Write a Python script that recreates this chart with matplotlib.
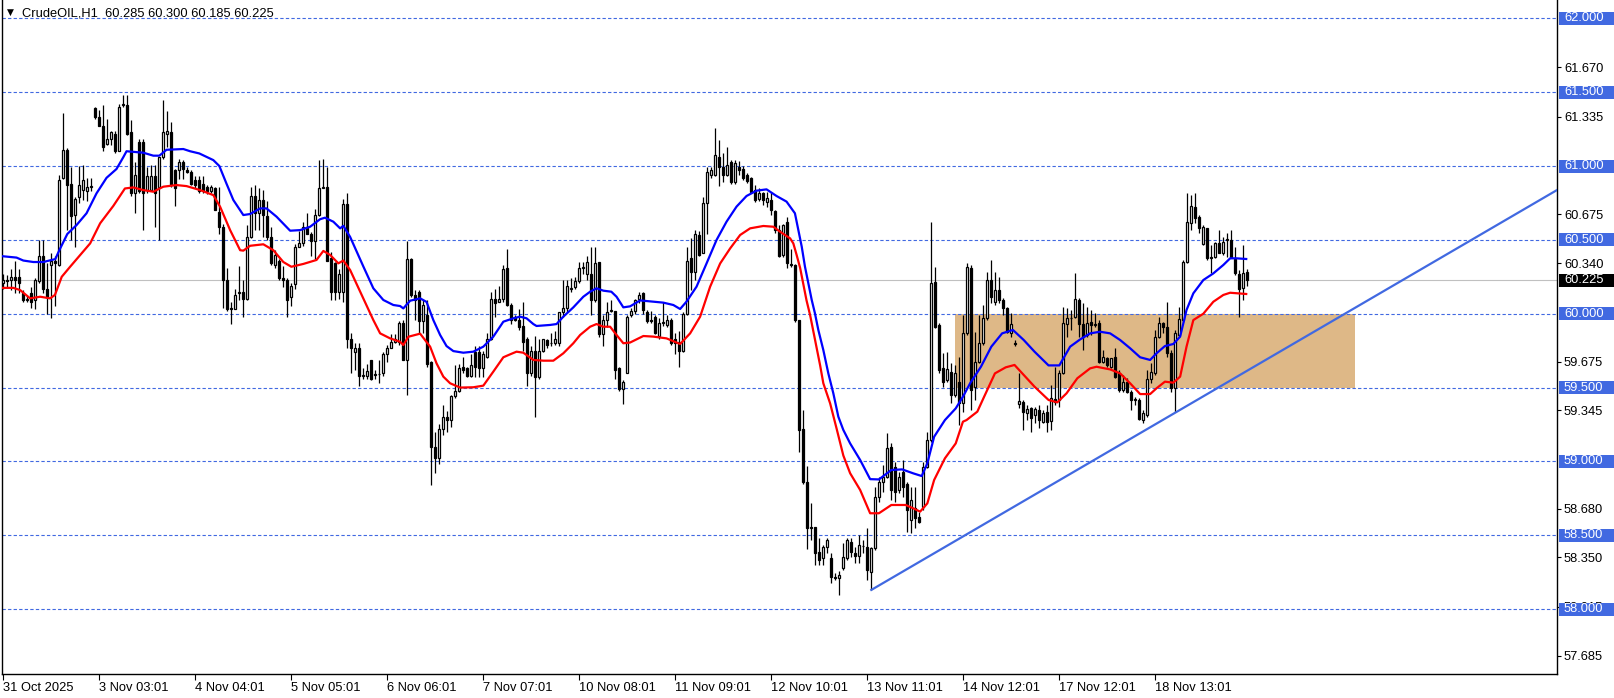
import matplotlib
matplotlib.use("Agg")
import matplotlib.pyplot as plt
from matplotlib.patches import Rectangle
import numpy as np

plt.rcParams['font.family'] = ['Liberation Sans', 'DejaVu Sans']

# ---------------- data (H1 candles, bar index 0..311) ----------------
opens = [60.21, 60.23, 60.23, 60.25, 60.25, 60.14, 60.10, 60.14, 60.09, 60.22,
         60.39, 60.17, 60.33, 60.36, 60.33, 60.92, 61.11, 60.88, 60.67, 60.79,
         60.84, 60.83, 60.86, 61.39, 61.33, 61.27, 61.15, 61.18, 61.22, 61.10,
         61.41, 61.41, 61.23, 60.815, 61.16, 61.16, 60.84, 60.84, 60.93, 60.86,
         61.06, 61.22, 61.23, 60.97, 60.97, 61.03, 60.97, 60.96, 60.905, 60.905,
         60.88, 60.86, 60.83, 60.85, 60.69, 60.59, 60.23, 60.04, 60.03, 60.14,
         60.15, 60.10, 60.52, 60.80, 60.68, 60.77, 60.66, 60.52, 60.33, 60.36,
         60.245, 60.23, 60.11, 60.20, 60.45, 60.48, 60.59, 60.54, 60.49, 60.67,
         60.85, 60.86, 60.38, 60.34, 60.15, 60.15, 60.74, 59.83, 59.74, 59.77,
         59.58, 59.58, 59.69, 59.59, 59.59, 59.60, 59.73, 59.77, 59.81, 59.81,
         59.94, 59.69, 60.37, 60.13, 60.15, 59.95, 59.99, 59.67, 59.10, 59.02,
         59.22, 59.30, 59.28, 59.44, 59.48, 59.64, 59.63, 59.58, 59.74, 59.74,
         59.63, 59.71, 59.83, 60.10, 60.08, 60.10, 60.31, 60.06, 59.98, 59.96,
         59.92, 59.83, 59.60, 59.75, 59.57, 59.75, 59.82, 59.80, 59.80, 59.80,
         60.01, 60.04, 60.17, 60.18, 60.22, 60.31, 60.27, 60.27, 60.09, 60.35,
         59.86, 59.96, 60.02, 60.02, 59.63, 59.49, 59.60, 59.99, 60.02, 60.10,
         60.138, 60.01, 59.96, 59.98, 59.85, 59.94, 59.925, 59.96, 59.83, 59.81,
         59.75, 59.995, 60.375, 60.285, 60.53, 60.41, 60.75, 60.94, 60.94, 61.06,
         60.995, 60.94, 61.03, 60.89, 60.995, 60.98, 60.94, 60.92, 60.84, 60.774,
         60.815, 60.759, 60.77, 60.698, 60.567, 60.40, 60.623, 60.336, 60.33, 59.957,
         59.217, 58.863, 58.558, 58.558, 58.389, 58.344, 58.423, 58.344, 58.22, 58.21,
         58.276, 58.344, 58.457, 58.383, 58.36, 58.43, 58.423, 58.254, 58.411, 58.761,
         58.863, 58.897, 59.10, 58.964, 58.806, 58.93, 58.85, 58.603, 58.682, 58.626,
         58.694, 58.964, 59.145, 60.217, 59.923, 59.63, 59.551, 59.607, 59.45, 59.54,
         59.393, 59.867, 60.307, 59.506, 59.675, 59.799, 59.969, 60.228, 60.082, 60.16,
         60.093, 60.036, 59.867, 59.799, 59.389, 59.405, 59.326, 59.36, 59.314, 59.348,
         59.269, 59.337, 59.276, 59.423, 59.416, 59.596, 59.93, 59.969, 59.975, 60.093,
         59.93, 59.856, 59.946, 59.924, 59.94, 59.675, 59.698, 59.637, 59.705, 59.596,
         59.483, 59.54, 59.472, 59.416, 59.416, 59.28, 59.314, 59.556, 59.596, 59.845,
         59.935, 59.912, 59.732, 59.495, 59.856, 59.958, 60.352, 60.612, 60.725, 60.657,
         60.472, 60.578, 60.382, 60.382, 60.481, 60.409, 60.499, 60.499, 60.368, 60.269,
         60.172, 60.285]
highs = [60.27, 60.26, 60.30, 60.36, 60.30, 60.16, 60.12, 60.18, 60.24, 60.50,
         60.50, 60.34, 60.41, 60.39, 60.94, 61.36, 61.12, 60.99, 60.79, 61.00,
         61.01, 60.92, 60.92, 61.40, 61.38, 61.41, 61.32, 61.24, 61.24, 61.42,
         61.48, 61.48, 61.31, 61.03, 61.18, 61.18, 60.99, 61.01, 61.01, 61.06,
         61.45, 61.37, 61.30, 60.98, 61.05, 61.04, 60.995, 60.97, 60.93, 60.93,
         60.93, 60.87, 60.87, 60.86, 60.86, 60.61, 60.31, 60.08, 60.17, 60.32,
         60.23, 60.60, 60.86, 60.87, 60.85, 60.84, 60.76, 60.59, 60.43, 60.37,
         60.32, 60.24, 60.21, 60.47, 60.56, 60.62, 60.68, 60.55, 60.71, 61.04,
         61.05, 60.995, 60.42, 60.35, 60.30, 60.78, 60.82, 59.87, 59.80, 59.80,
         59.63, 59.66, 59.69, 59.62, 59.69, 59.74, 59.79, 59.86, 59.86, 59.95,
         59.96, 60.49, 60.38, 60.16, 60.16, 60.09, 60.09, 59.68, 59.20, 59.25,
         59.38, 59.34, 59.45, 59.65, 59.66, 59.71, 59.64, 59.73, 59.78, 59.78,
         59.75, 59.87, 60.15, 60.17, 60.19, 60.33, 60.44, 60.07, 59.99, 60.03,
         60.08, 59.84, 59.78, 59.85, 59.83, 59.83, 59.83, 59.87, 59.88, 60.01,
         60.23, 60.23, 60.24, 60.25, 60.35, 60.35, 60.39, 60.45, 60.45, 60.35,
         59.99, 60.08, 60.09, 60.02, 59.64, 59.55, 59.99, 60.04, 60.10, 60.15,
         60.15, 60.025, 60.02, 59.99, 59.97, 60.08, 59.99, 59.97, 59.87, 59.88,
         60.01, 60.45, 60.51, 60.57, 60.56, 60.79, 60.995, 60.995, 61.255, 61.175,
         61.09, 61.126, 61.04, 61.04, 61.036, 61.00, 60.95, 60.928, 60.87, 60.85,
         60.826, 60.826, 60.826, 60.70, 60.60, 60.61, 60.657, 60.436, 60.336, 59.96,
         59.35, 58.97, 58.716, 58.558, 58.479, 58.434, 58.479, 58.378, 58.242, 58.26,
         58.445, 58.479, 58.479, 58.42, 58.50, 58.468, 58.547, 58.423, 58.83, 58.897,
         58.976, 59.19, 59.122, 58.998, 58.93, 59.01, 58.86, 58.829, 58.829, 58.66,
         58.998, 59.20, 60.623, 60.319, 59.935, 59.732, 59.743, 59.664, 59.653, 59.709,
         59.991, 60.341, 60.33, 59.879, 59.991, 60.059, 60.285, 60.364, 60.285, 60.251,
         60.104, 60.048, 60.003, 59.822, 59.596, 59.416, 59.382, 59.371, 59.371, 59.382,
         59.348, 59.382, 59.517, 59.641, 59.619, 60.048, 60.036, 60.025, 60.273, 60.104,
         60.07, 60.048, 60.025, 60.003, 59.957, 59.754, 59.709, 59.698, 59.766, 59.619,
         59.585, 59.562, 59.483, 59.438, 59.427, 59.348, 59.619, 59.664, 59.89, 59.98,
         59.946, 60.082, 59.754, 59.89, 60.048, 60.363, 60.815, 60.804, 60.815, 60.668,
         60.601, 60.578, 60.465, 60.488, 60.567, 60.522, 60.544, 60.567, 60.454, 60.296,
         60.465, 60.300]
lows = [60.17, 60.18, 60.16, 60.14, 60.14, 60.08, 60.08, 60.04, 60.03, 60.21,
        60.14, 60.00, 59.97, 60.05, 60.32, 60.91, 60.57, 60.50, 60.45, 60.75,
        60.77, 60.76, 60.83, 61.32, 61.27, 61.10, 61.14, 61.14, 61.09, 61.10,
        61.40, 61.21, 60.80, 60.68, 60.82, 60.57, 60.82, 60.83, 60.59, 60.50,
        61.05, 61.13, 60.86, 60.73, 60.91, 60.91, 60.95, 60.87, 60.85, 60.82,
        60.82, 60.81, 60.82, 60.70, 60.54, 60.04, 60.02, 59.93, 60.03, 60.09,
        59.98, 60.09, 60.51, 60.57, 60.57, 60.52, 60.50, 60.33, 60.31, 60.23,
        60.18, 59.98, 60.05, 60.17, 60.45, 60.46, 60.54, 60.39, 60.37, 60.66,
        60.85, 60.36, 60.09, 60.09, 60.10, 60.08, 59.77, 59.60, 59.62, 59.51,
        59.56, 59.56, 59.55, 59.56, 59.53, 59.58, 59.67, 59.77, 59.80, 59.79,
        59.69, 59.45, 60.11, 59.96, 59.87, 59.87, 59.64, 58.84, 58.92, 58.98,
        59.18, 59.20, 59.23, 59.43, 59.47, 59.60, 59.57, 59.57, 59.57, 59.57,
        59.57, 59.70, 59.82, 59.98, 60.08, 60.08, 60.05, 59.93, 59.95, 59.89,
        59.75, 59.51, 59.58, 59.30, 59.56, 59.74, 59.77, 59.78, 59.79, 59.78,
        59.98, 60.01, 60.15, 60.17, 60.21, 60.27, 60.23, 59.99, 60.08, 59.84,
        59.78, 59.91, 60.01, 59.56, 59.48, 59.39, 59.60, 59.98, 60.00, 60.07,
        60.00, 59.935, 59.935, 59.86, 59.83, 59.92, 59.91, 59.79, 59.73, 59.64,
        59.74, 59.99, 60.16, 60.23, 60.39, 60.41, 60.54, 60.92, 60.93, 60.865,
        60.89, 60.93, 60.88, 60.88, 60.94, 60.905, 60.883, 60.815, 60.758, 60.765,
        60.736, 60.725, 60.668, 60.544, 60.386, 60.386, 60.307, 60.314, 59.946, 59.066,
        58.85, 58.41, 58.468, 58.298, 58.298, 58.298, 58.378, 58.175, 58.197, 58.095,
        58.265, 58.33, 58.355, 58.31, 58.31, 58.38, 58.20, 58.129, 58.40, 58.727,
        58.795, 58.886, 58.739, 58.728, 58.784, 58.76, 58.52, 58.513, 58.547, 58.58,
        58.671, 58.953, 59.13, 59.90, 59.596, 59.506, 59.54, 59.393, 59.438, 59.247,
        59.337, 59.856, 59.348, 59.416, 59.664, 59.788, 59.958, 60.07, 60.059, 60.07,
        59.991, 59.867, 59.845, 59.781, 59.36, 59.213, 59.28, 59.202, 59.258, 59.224,
        59.258, 59.202, 59.213, 59.382, 59.371, 59.592, 59.845, 59.89, 59.969, 59.845,
        59.754, 59.845, 59.856, 59.912, 59.664, 59.664, 59.641, 59.63, 59.562, 59.472,
        59.472, 59.461, 59.348, 59.382, 59.28, 59.258, 59.303, 59.529, 59.585, 59.833,
        59.867, 59.709, 59.472, 59.337, 59.845, 59.946, 60.341, 60.567, 60.612, 60.544,
        60.465, 60.364, 60.273, 60.375, 60.409, 60.397, 60.386, 60.375, 60.262, 59.98,
        60.093, 60.185]
closes = [60.23, 60.22, 60.25, 60.23, 60.21, 60.09, 60.09, 60.08, 60.23, 60.39,
          60.17, 60.11, 60.36, 60.34, 60.905, 61.11, 60.87, 60.66, 60.78, 60.87,
          60.905, 60.86, 60.86, 61.33, 61.27, 61.13, 61.18, 61.23, 61.10, 61.40,
          61.42, 61.22, 60.815, 60.94, 60.83, 60.815, 60.93, 60.93, 60.815, 61.06,
          61.23, 61.24, 60.87, 60.85, 61.03, 60.98, 60.96, 60.88, 60.87, 60.83,
          60.84, 60.83, 60.86, 60.70, 60.59, 60.23, 60.03, 60.03, 60.13, 60.145,
          60.10, 60.52, 60.80, 60.68, 60.77, 60.67, 60.52, 60.34, 60.40, 60.24,
          60.23, 60.09, 60.19, 60.45, 60.48, 60.59, 60.54, 60.49, 60.67, 60.85,
          60.86, 60.36, 60.15, 60.15, 60.27, 60.74, 59.83, 59.77, 59.77, 59.58,
          59.585, 59.61, 59.56, 59.585, 59.595, 59.73, 59.77, 59.81, 59.83, 59.94,
          59.69, 60.37, 60.13, 60.09, 59.95, 60.06, 59.66, 59.10, 59.02, 59.22,
          59.30, 59.28, 59.44, 59.48, 59.63, 59.62, 59.58, 59.65, 59.64, 59.63,
          59.73, 59.83, 60.10, 60.075, 60.10, 60.30, 60.06, 59.96, 59.96, 59.91,
          59.81, 59.60, 59.75, 59.57, 59.75, 59.83, 59.79, 59.80, 59.83, 60.01,
          60.04, 60.19, 60.17, 60.22, 60.31, 60.31, 60.35, 60.09, 60.34, 59.86,
          59.96, 60.01, 60.025, 59.62, 59.49, 59.54, 59.98, 60.02, 60.09, 60.13,
          60.025, 59.95, 59.95, 59.87, 59.94, 59.94, 59.96, 59.80, 59.80, 59.75,
          59.995, 60.36, 60.285, 60.54, 60.40, 60.75, 60.96, 60.97, 61.075, 60.995,
          60.94, 61.007, 60.89, 61.02, 60.97, 60.92, 60.90, 60.826, 60.77, 60.815,
          60.77, 60.781, 60.702, 60.567, 60.39, 60.60, 60.345, 60.33, 59.957, 59.213,
          58.863, 58.547, 58.547, 58.378, 58.333, 58.423, 58.468, 58.219, 58.21, 58.23,
          58.355, 58.468, 58.39, 58.36, 58.434, 58.426, 58.265, 58.411, 58.761, 58.863,
          58.897, 59.089, 58.806, 58.795, 58.897, 58.83, 58.67, 58.739, 58.614, 58.592,
          58.964, 59.145, 60.206, 59.912, 59.619, 59.54, 59.623, 59.45, 59.60, 59.393,
          59.867, 60.318, 59.484, 59.675, 59.799, 59.969, 60.228, 60.115, 60.16, 60.093,
          60.036, 59.878, 59.93, 59.793, 59.41, 59.337, 59.353, 59.292, 59.353, 59.28,
          59.33, 59.269, 59.427, 59.405, 59.596, 59.935, 59.969, 59.969, 60.097, 59.93,
          59.845, 59.935, 59.924, 59.924, 59.675, 59.705, 59.653, 59.698, 59.574, 59.483,
          59.54, 59.472, 59.416, 59.416, 59.285, 59.326, 59.556, 59.607, 59.845, 59.935,
          59.908, 59.732, 59.495, 59.867, 59.962, 60.352, 60.623, 60.729, 60.646, 60.578,
          60.585, 60.375, 60.375, 60.476, 60.413, 60.488, 60.499, 60.382, 60.273, 60.165,
          60.279, 60.225]

# moving averages (bar index, price)
blue_ma_x = [-0.5, 3.3, 5, 7.5, 10, 13, 14, 16, 18.3, 20.8, 23.3, 25.8, 28.3, 30, 30.8,
             35, 37.5, 39, 40.8, 45, 46.7, 49, 52.5, 54, 55.8, 57.5, 60, 61.7, 64.2,
             65.8, 68.3, 71.7, 74.2, 76.7, 79.2, 80.4, 82.5, 84.2, 85, 86.7, 90, 92.5,
             95, 97.5, 99.2, 100, 101.7, 104.2, 105.8, 107.5, 109.2, 110.8, 112.5, 115,
             117.5, 120, 122.5, 125, 127.5, 129.2, 130.8, 132.5, 133.3, 136.7, 138.3,
             140, 142.5, 145, 146.7, 148.3, 150, 152, 153.3, 155, 156.7, 159.2, 160,
             165, 167.5, 169.2, 170.8, 173.3, 175.8, 178.3, 180.8, 183.3, 185.8, 188.3,
             190.8, 193.3, 195.8, 197.9, 198.75, 199.6, 200.4, 201.25, 202.1, 202.9,
             203.75, 205, 206.25, 207.5, 208.75, 210, 211.7, 214.2, 216.7, 218.9, 222,
             224.7, 227.5, 229.6, 231, 232.7, 235.4, 238.1, 239.9, 241.7, 244.4, 247,
             249.7, 252.4, 255.1, 257.8, 261.3, 264, 266.7, 269.2, 271.7, 274.2, 276.7,
             279.2, 281.7, 284.2, 286.7, 288.3, 290.4, 292.5, 294.2, 295.8, 297.5, 300,
             302.5, 305, 306.7, 308.3, 311]
blue_ma_y = [60.39, 60.38, 60.36, 60.35, 60.35, 60.37, 60.43, 60.54, 60.60, 60.68, 60.815,
             60.92, 60.98, 61.06, 61.10, 61.09, 61.07, 61.07, 61.11, 61.115, 61.10,
             61.085, 61.04, 61.00, 60.88, 60.77, 60.668, 60.675, 60.713, 60.713, 60.657,
             60.562, 60.566, 60.589, 60.64, 60.65, 60.623, 60.578, 60.595, 60.52, 60.32,
             60.172, 60.093, 60.059, 60.052, 60.036, 60.088, 60.104, 60.08, 59.957,
             59.856, 59.781, 59.747, 59.736, 59.743, 59.777, 59.845, 59.946, 59.969,
             59.98, 59.969, 59.93, 59.917, 59.924, 59.93, 59.98, 60.043, 60.115, 60.149,
             60.172, 60.156, 60.149, 60.115, 60.043, 60.05, 60.09, 60.088, 60.075,
             60.059, 60.032, 60.082, 60.183, 60.34, 60.499, 60.623, 60.725, 60.797,
             60.833, 60.842, 60.797, 60.759, 60.68, 60.567, 60.454, 60.32, 60.206,
             60.093, 60.003, 59.89, 59.754, 59.596, 59.461, 59.303, 59.213, 59.122,
             59.01, 58.88, 58.878, 58.942, 58.946, 58.919, 58.901, 58.987, 59.167,
             59.28, 59.359, 59.438, 59.529, 59.641, 59.777, 59.867, 59.89, 59.822,
             59.743, 59.65, 59.65, 59.777, 59.826, 59.867, 59.878, 59.867, 59.822,
             59.766, 59.705, 59.687, 59.732, 59.781, 59.795, 59.845, 60.025, 60.138,
             60.228, 60.273, 60.33, 60.375, 60.375, 60.37]
red_ma_x = [-0.5, 2.5, 4.2, 6.7, 9.2, 11.7, 12.9, 14.6, 16.7, 19.2, 21.7, 24.2, 27.5, 30.4,
            32.5, 35, 37.5, 40, 43.3, 45.8, 49.2, 52.5, 54.2, 56.7, 59.2, 60, 61.7, 65,
            67.5, 70, 72, 75, 78.3, 80, 81.7, 83.75, 85, 86.7, 90, 92.5, 94.2, 96.7,
            99.2, 100, 101.25, 104.2, 106.7, 108.3, 110, 111.7, 114.2, 117.5, 120,
            122.5, 125, 126.7, 128.3, 130, 132.5, 135, 137.5, 140, 142.5, 144.2, 146.7,
            148.3, 150, 151.7, 153.3, 155, 156.7, 160, 162.5, 165.8, 169.2, 171.7,
            174.2, 176.7, 179.2, 181.7, 184.2, 186.7, 190, 192.5, 194.2, 196.7, 197.5,
            198.3, 199.2, 200, 200.8, 201.7, 202.5, 203.3, 204.2, 205, 206.7, 208.3,
            210, 211.7, 214.2, 216.7, 218.9, 222, 225.6, 227.5, 229.2, 231, 232.7,
            235.4, 238.1, 239.9, 240.8, 243.5, 245.2, 247.9, 250.6, 252.8, 255.1,
            257.8, 261.3, 263.5, 265.8, 268.5, 271.7, 273.3, 276.7, 279.2, 281.7,
            284.2, 286.7, 288.3, 290.4, 292.5, 294.2, 295.8, 297.5, 300, 302.5, 305,
            306.7, 311]
red_ma_y = [60.175, 60.175, 60.16, 60.104, 60.115, 60.104, 60.127, 60.25, 60.318, 60.397,
            60.476, 60.612, 60.73, 60.848, 60.855, 60.837, 60.826, 60.86, 60.871,
            60.864, 60.837, 60.803, 60.724, 60.566, 60.43, 60.427, 60.46, 60.47, 60.43,
            60.35, 60.318, 60.337, 60.364, 60.425, 60.398, 60.341, 60.36, 60.296,
            60.104, 59.957, 59.867, 59.833, 59.81, 59.788, 59.844, 59.865, 59.777,
            59.664, 59.574, 59.529, 59.50, 59.502, 59.513, 59.608, 59.705, 59.725,
            59.743, 59.736, 59.687, 59.682, 59.682, 59.732, 59.80, 59.856, 59.912,
            59.93, 59.912, 59.912, 59.856, 59.80, 59.805, 59.849, 59.845, 59.833,
            59.795, 59.867, 59.98, 60.183, 60.34, 60.442, 60.533, 60.578, 60.594,
            60.589, 60.555, 60.51, 60.476, 60.40, 60.31, 60.20, 60.09, 59.99, 59.88,
            59.77, 59.65, 59.529, 59.393, 59.224, 59.04, 58.92, 58.807, 58.649, 58.649,
            58.705, 58.705, 58.682, 58.66, 58.716, 58.874, 59.021, 59.122, 59.269,
            59.28, 59.337, 59.438, 59.596, 59.637, 59.653, 59.585, 59.506, 59.416,
            59.40, 59.461, 59.563, 59.63, 59.641, 59.623, 59.596, 59.529, 59.456,
            59.456, 59.495, 59.54, 59.533, 59.574, 59.777, 59.957, 60.0, 60.081,
            60.127, 60.142, 60.133]

level_prices = [62.0, 61.5, 61.0, 60.5, 60.0, 59.5, 59.0, 58.5, 58.0]
scale_ticks = [61.670, 61.335, 60.675, 60.340, 59.675, 59.345, 58.680, 58.350, 58.015, 57.685]
last_price = 60.225
date_labels = ["31 Oct 2025", "3 Nov 03:01", "4 Nov 04:01", "5 Nov 05:01", "6 Nov 06:01",
               "7 Nov 07:01", "10 Nov 08:01", "11 Nov 09:01", "12 Nov 10:01",
               "13 Nov 11:01", "14 Nov 12:01", "17 Nov 12:01", "18 Nov 13:01"]
date_bars = [0, 24, 48, 72, 96, 120, 144, 168, 192, 216, 240, 264, 288]
zone_bars = [238, 338]
zone_prices = [59.5, 60.0]
trend_bars = [217, 335.4]
trend_prices = [58.13, 60.0]
header = "CrudeOIL,H1  60.285 60.300 60.185 60.225"

# ---------------- layout ----------------
W, H = 1614, 698
fig = plt.figure(figsize=(W / 100, H / 100), dpi=100)
L, R, B, T = 2, 1557, 674, 0
ax = fig.add_axes([L / W, (H - B) / H, (R - L) / W, (B - T) / H])
ppb = 4.0      # pixels per bar
x0 = 3.33      # pixel of bar 0
ppu = 147.7    # pixels per price unit
ytop = 62.124
ax.set_xlim((L - x0) / ppb, (R - x0) / ppb)
ax.set_ylim(ytop - (B - T) / ppu, ytop)

BLUE_LVL = '#4169E1'

# zone rectangle (background)
ax.add_patch(Rectangle((zone_bars[0], zone_prices[0]), zone_bars[1] - zone_bars[0],
                       zone_prices[1] - zone_prices[0], facecolor='#DEB887',
                       edgecolor='none', zorder=1))

# current price line
ax.axhline(last_price, color='#C0C0C0', lw=0.8, zorder=1.5)

# level lines
for p in level_prices:
    ax.axhline(p, color=BLUE_LVL, lw=0.8, ls=(0, (3, 2)), zorder=2)

# candles
o = np.array(opens); h = np.array(highs); l = np.array(lows); c = np.array(closes)
idx = np.arange(len(o))
up = c >= o
ax.vlines(idx, l, h, color='black', lw=0.9, zorder=3)
bot = np.minimum(o, c)
hgt = np.maximum(np.abs(c - o), 0.004)
ax.bar(idx[up], hgt[up], bottom=bot[up], width=0.55, color='white',
       edgecolor='black', linewidth=0.9, zorder=4)
ax.bar(idx[~up], hgt[~up], bottom=bot[~up], width=0.55, color='black',
       edgecolor='black', linewidth=0.9, zorder=4)

# moving averages
ax.plot(blue_ma_x, blue_ma_y, color='#0000FF', lw=1.6, zorder=5, solid_capstyle='butt')
ax.plot(red_ma_x, red_ma_y, color='#FF0000', lw=1.6, zorder=5, solid_capstyle='butt')

# trend line (ray to the right edge)
slope = (trend_prices[1] - trend_prices[0]) / (trend_bars[1] - trend_bars[0])
x_end = ax.get_xlim()[1]
ax.plot([trend_bars[0], x_end], [trend_prices[0], trend_prices[0] + slope * (x_end - trend_bars[0])],
        color=BLUE_LVL, lw=1.6, zorder=6)

# spines / ticks
ax.spines['top'].set_visible(False)
for s in ('left', 'right', 'bottom'):
    ax.spines[s].set_linewidth(1.0)
    ax.spines[s].set_color('black')
ax.yaxis.tick_right()
ax.set_yticks(scale_ticks)
ax.set_yticklabels([f"{v:.3f}" for v in scale_ticks])
ax.tick_params(axis='y', length=3, width=0.8, pad=2, labelsize=9.3, colors='black')
ax.set_xticks(date_bars)
ax.set_xticklabels(date_labels)
ax.tick_params(axis='x', length=4, width=0.8, pad=2, labelsize=9.3, colors='black')
for t in ax.get_xticklabels():
    t.set_ha('left')

# level labels on the price scale
yt = ax.get_yaxis_transform()
box_h = 13 / ppu
bx = (1559 - L) / (R - L)
tx = (1564 - L) / (R - L)
for p in level_prices:
    ax.add_patch(Rectangle((bx, p - box_h / 2), 0.05, box_h, transform=yt,
                           facecolor=BLUE_LVL, edgecolor='none', clip_on=False, zorder=10))
    ax.text(tx, p, f"{p:.3f}", transform=yt, color='white', va='center', ha='left',
            fontsize=9.3, clip_on=False, zorder=11)
ax.add_patch(Rectangle((bx, last_price - box_h / 2), 0.05, box_h, transform=yt,
                       facecolor='black', edgecolor='none', clip_on=False, zorder=10))
ax.text(tx, last_price, f"{last_price:.3f}", transform=yt, color='white', va='center',
        ha='left', fontsize=9.3, clip_on=False, zorder=11)

# header
fig.text(7 / W, 1 - 12.5 / H, '\u25BC', fontsize=6.5, family=['DejaVu Sans'],
         va='center', ha='left')
fig.text(21.5 / W, 1 - 13.3 / H, header, fontsize=9.3, va='center', ha='left')

fig.savefig('out.png', dpi=100)
